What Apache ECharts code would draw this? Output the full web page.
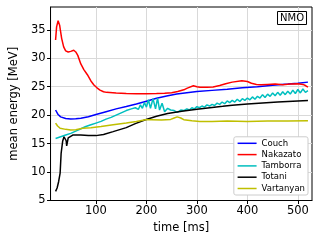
<!DOCTYPE html>
<html>
<head>
<meta charset="utf-8">
<script src="https://cdn.jsdelivr.net/npm/echarts@6/dist/echarts.min.js"></script>
<style>
html,body{margin:0;padding:0;background:#fff;}
#c{width:320px;height:240px;}
</style>
</head>
<body>
<div id="c"></div>
<script>
var seriesNames = ['Couch', 'Nakazato', 'Tamborra', 'Totani', 'Vartanyan'];
var xTicks = [100, 200, 300, 400, 500];
var yTicks = [5, 10, 15, 20, 25, 30, 35];

var couch = [[20,20.9],[25,20.1],[30,19.7],[40,19.4],[50,19.3],[60,19.35],[70,19.45],[85,19.7],[100,20.1],[120,20.6],[140,21.1],[160,21.5],[180,21.95],[200,22.45],[220,22.95],[240,23.35],[260,23.7],[280,23.95],[300,24.15],[330,24.35],[360,24.55],[390,24.8],[420,25.0],[450,25.25],[480,25.45],[500,25.6],[520,25.8]];

var nakazato = [[20,33.2],[22,35.5],[25,36.6],[28,35.8],[32,33.5],[36,32.0],[40,31.3],[45,31.1],[50,31.2],[56,31.4],[60,31.1],[64,30.5],[70,29.0],[76,28.0],[83,27.1],[90,26.0],[96,25.3],[102,24.8],[108,24.4],[115,24.1],[121,24.0],[140,23.9],[160,23.8],[180,23.75],[200,23.75],[220,23.8],[236,23.85],[250,23.95],[262,24.15],[274,24.45],[281,24.75],[293,25.15],[300,25.0],[306,24.9],[320,24.9],[332,24.95],[345,25.2],[357,25.5],[370,25.8],[389,26.05],[400,25.9],[408,25.6],[418,25.4],[427,25.35],[440,25.4],[455,25.45],[470,25.35],[485,25.45],[500,25.5],[510,25.4],[515,25.2],[520,24.9]];

var tamborra = [[20,15.9],[30,16.2],[40,16.5],[50,16.8],[60,17.2],[70,17.6],[80,18.0],[90,18.3],[100,18.6],[110,18.9],[120,19.3],[130,19.6],[140,20.0],[150,20.4],[160,20.8],[170,21.1],[178,21.3],[184,21.0],[188,21.8],[192,21.2],[196,22.2],[200,21.4],[204,22.7],[208,21.2],[213,22.9],[218,21.1],[222,23.0],[226,20.9],[231,22.1],[236,20.6],[242,21.2],[248,20.9],[255,20.8],[261,20.5],[268,20.9],[274,20.8],[280,21.1],[285,20.9],[290,21.3],[295,21.1],[300,21.5],[305,21.3],[310,21.6],[315,21.4],[320,21.8],[325,21.6],[330,21.9],[335,21.7],[340,22.1],[345,21.9],[350,22.3],[355,22.0],[360,22.5],[365,22.2],[370,22.6],[375,22.3],[380,22.8],[385,22.4],[390,22.9],[395,22.6],[400,23.0],[405,22.7],[410,23.2],[415,22.8],[420,23.3],[425,23.0],[430,23.6],[435,23.1],[440,23.7],[445,23.3],[450,23.9],[455,23.4],[460,24.0],[465,23.5],[470,24.1],[475,23.6],[480,24.2],[485,23.7],[490,24.4],[495,23.8],[500,24.5],[505,23.9],[510,24.6],[515,24.0],[520,24.3]];

var totani = [[20,6.6],[23,7.2],[26,8.3],[29,9.8],[31,13.3],[34,15.4],[36.7,16.2],[39,16.4],[41,15.5],[42,14.6],[43,14.8],[45,16.0],[48,16.3],[54,16.5],[70,16.5],[85,16.4],[100,16.4],[115,16.6],[134,17.1],[160,17.8],[178,18.5],[198,19.2],[220,19.8],[242,20.3],[270,20.7],[300,21.05],[330,21.35],[351,21.55],[370,21.75],[400,21.95],[430,22.15],[460,22.3],[490,22.45],[520,22.55]];

var vartanyan = [[20,18.6],[24,18.1],[29,17.7],[40,17.5],[50,17.4],[60,17.45],[74,17.7],[90,17.8],[110,18.0],[134,18.3],[160,18.6],[180,18.9],[198,19.2],[210,19.2],[230,19.15],[248,19.25],[255,19.5],[261,19.7],[268,19.5],[274,19.2],[290,19.0],[306,18.9],[330,18.9],[360,18.95],[400,18.9],[440,18.95],[480,18.95],[520,19.0]];

var seriesData = [couch, nakazato, tamborra, totani, vartanyan];
var colors = ['#0000ff', '#ff0000', '#00bfbf', '#000000', '#bfbf00'];

var font = 'DejaVu Sans';
var chart = echarts.init(document.getElementById('c'), null, {renderer: 'canvas'});
var series = seriesNames.map(function (n, i) {
  return {
    name: n, type: 'line', data: seriesData[i], symbol: 'none', smooth: false,
    lineStyle: {color: colors[i], width: 1.5}, itemStyle: {color: colors[i]},
    animation: false, z: 3
  };
});
chart.setOption({
  animation: false,
  grid: {left: 42, right: 8, top: 7, bottom: 39.5, show: true, borderColor: '#000', borderWidth: 1},
  title: {text: 'NMO', right: 13, top: 11, padding: [2, 3, 2, 3], borderColor: '#000', borderWidth: 1,
    textStyle: {fontFamily: font, fontSize: 10, fontWeight: 'normal', color: '#000'}},
  legend: {
    data: seriesNames, orient: 'vertical', right: 12, bottom: 45,
    backgroundColor: '#fff', borderColor: '#ccc', borderWidth: 1, borderRadius: 2,
    padding: [2, 3, 2, 3], itemWidth: 19, itemHeight: 8, itemGap: 2.3,
    itemStyle: {opacity: 0},
    lineStyle: {width: 1.5},
    textStyle: {fontFamily: font, fontSize: 8.5, color: '#000'}
  },
  xAxis: {
    type: 'value', min: 10, max: 528,
    name: 'time [ms]', nameLocation: 'middle', nameGap: 21,
    nameTextStyle: {fontFamily: font, fontSize: 11.5, color: '#000'},
    axisLine: {lineStyle: {color: '#000', width: 1}},
    axisTick: {inside: false, length: 3.5, lineStyle: {color: '#000'}, customValues: xTicks},
    axisLabel: {customValues: xTicks, fontFamily: font, fontSize: 11.5, color: '#000', margin: 5},
    splitLine: {show: true, lineStyle: {color: '#d9d9d9', width: 1}}
  },
  yAxis: {
    type: 'value', min: 5, max: 39, interval: 5,
    name: 'mean energy [MeV]', nameLocation: 'middle', nameGap: 23,
    nameTextStyle: {fontFamily: font, fontSize: 11.5, color: '#000'},
    axisLine: {show: true, lineStyle: {color: '#000', width: 1}},
    axisTick: {show: true, inside: false, length: 3.5, lineStyle: {color: '#000'}, customValues: yTicks},
    axisLabel: {customValues: yTicks, fontFamily: font, fontSize: 11.5, color: '#000', margin: 5},
    splitLine: {show: true, lineStyle: {color: '#d9d9d9', width: 1}}
  },
  series: series
});
</script>
</body>
</html>
